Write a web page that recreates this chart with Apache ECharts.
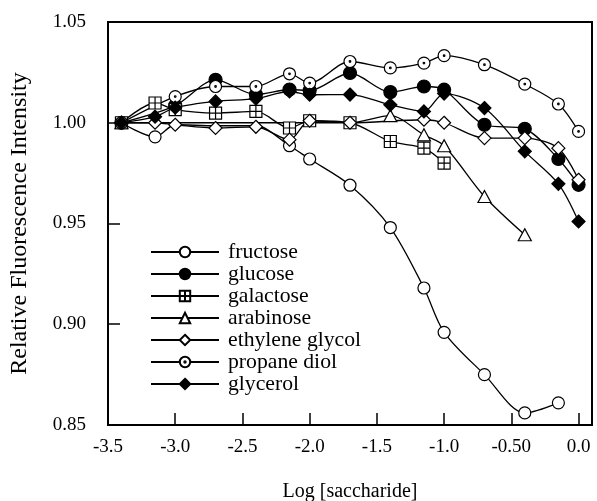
<!DOCTYPE html>
<html>
<head>
<meta charset="utf-8">
<script src="https://cdn.jsdelivr.net/npm/echarts@6/dist/echarts.min.js"></script>
<style>
html,body{margin:0;padding:0;background:#fff;}
#chart{width:597px;height:501px;}
</style>
</head>
<body>
<div id="chart"></div>
<script>
// ---- data (x = log[saccharide], y = relative fluorescence intensity) ----
const seriesNames = ['fructose','glucose','galactose','arabinose','ethylene glycol','propane diol','glycerol'];
const xTickValues = [-3.5,-3.0,-2.5,-2.0,-1.5,-1.0,-0.5,0.0];
const xTickLabels = ['-3.5','-3.0','-2.5','-2.0','-1.5','-1.0','-0.50','0.0'];
const yTickLabels = ['0.85','0.90','0.95','1.00','1.05'];

const fructoseX = [-3.40,-3.15,-3.00,-2.70,-2.40,-2.15,-2.00,-1.70,-1.40,-1.15,-1.00,-0.70,-0.40,-0.15];
const fructoseY = [1.000,0.993,0.999,0.9985,0.9985,0.9886,0.982,0.969,0.948,0.918,0.896,0.875,0.856,0.861];
const fructoseUnmarked = [-3.00,-2.70,-2.40];

const glucoseX = [-3.40,-3.00,-2.70,-2.40,-2.15,-2.00,-1.70,-1.40,-1.15,-1.00,-0.70,-0.40,-0.15,0.00];
const glucoseY = [1.000,1.0085,1.0213,1.014,1.0165,1.016,1.0247,1.0152,1.018,1.0164,0.999,0.997,0.982,0.9692];

const galactoseX = [-3.40,-3.15,-3.00,-2.70,-2.40,-2.15,-2.00,-1.70,-1.40,-1.15,-1.00];
const galactoseY = [1.000,1.0098,1.0065,1.0048,1.0056,0.9974,1.001,1.000,0.9907,0.9874,0.980];

const arabinoseX = [-3.40,-1.70,-1.40,-1.15,-1.00,-0.70,-0.40];
const arabinoseY = [1.000,1.000,1.0035,0.994,0.9886,0.9634,0.9444];
const arabinoseUnmarked = [-1.70];

const ethyleneX = [-3.40,-3.15,-3.00,-2.70,-2.40,-2.15,-2.00,-1.70,-1.15,-1.00,-0.70,-0.40,-0.15,0.00];
const ethyleneY = [1.000,1.000,0.999,0.9974,0.998,0.9916,1.001,1.000,1.0015,1.000,0.9924,0.9924,0.9874,0.9717];

const propaneX = [-3.40,-3.00,-2.70,-2.40,-2.15,-2.00,-1.70,-1.40,-1.15,-1.00,-0.70,-0.40,-0.15,0.00];
const propaneY = [1.000,1.013,1.018,1.018,1.0243,1.0197,1.0304,1.0272,1.0296,1.0333,1.0288,1.0192,1.0093,0.9957];

const glycerolX = [-3.40,-3.15,-3.00,-2.70,-2.40,-2.15,-2.00,-1.70,-1.40,-1.15,-1.00,-0.70,-0.40,-0.15,0.00];
const glycerolY = [1.000,1.003,1.0075,1.0106,1.012,1.0155,1.0139,1.014,1.0089,1.0056,1.0145,1.0073,0.9858,0.9697,0.951];

// ---- build ----
const FONT = '"Liberation Serif","Times New Roman",serif';
const dotCircle = 'path://M6,0A6,6,0,1,1,6,12A6,6,0,1,1,6,0ZM6,5.2A0.8,0.8,0,1,1,6,6.8A0.8,0.8,0,1,1,6,5.2Z';
const crossSquare = 'path://M0,0H10V10H0ZM5,0V10M0,5H10';

function pts(xs, ys, unmarked) {
  return xs.map((x, i) => {
    const item = { value: [x, ys[i]] };
    if (unmarked && unmarked.indexOf(x) >= 0) { item.symbol = 'none'; }
    return item;
  });
}
const styles = [
  { symbol: 'circle', size: 12, fill: '#fff' },
  { symbol: 'circle', size: 13, fill: '#000' },
  { symbol: crossSquare, size: 12, fill: '#fff' },
  { symbol: 'triangle', size: [13, 12], fill: '#fff' },
  { symbol: 'diamond', size: 13, fill: '#fff' },
  { symbol: dotCircle, size: 12, fill: '#fff' },
  { symbol: 'diamond', size: 13, fill: '#000' }
];
const dataSets = [
  pts(fructoseX, fructoseY, fructoseUnmarked),
  pts(glucoseX, glucoseY),
  pts(galactoseX, galactoseY),
  pts(arabinoseX, arabinoseY, arabinoseUnmarked),
  pts(ethyleneX, ethyleneY),
  pts(propaneX, propaneY),
  pts(glycerolX, glycerolY)
];
const series = seriesNames.map((name, i) => ({
  name: name,
  type: 'line',
  data: dataSets[i],
  smooth: 0.3,
  symbol: styles[i].symbol,
  symbolSize: styles[i].size,
  showAllSymbol: true,
  lineStyle: { color: '#000', width: 1.3 },
  itemStyle: { color: styles[i].fill, borderColor: '#000', borderWidth: 1.2 },
  emphasis: { disabled: true },
  animation: false
}));

const chart = echarts.init(document.getElementById('chart'), null, { renderer: 'canvas' });
chart.setOption({
  backgroundColor: '#fff',
  animation: false,
  grid: { left: 108, right: 5, top: 22, bottom: 76, show: true, borderColor: '#000', borderWidth: 2, backgroundColor: 'transparent', containLabel: false, outerBoundsMode: 'none' },
  legend: {
    orient: 'vertical', left: 145, top: 236,
    itemWidth: 68, itemHeight: 13, itemGap: 0,
    data: seriesNames,
    textStyle: { fontFamily: FONT, fontSize: 21.7, color: '#000', padding: [0, 0, 0, 4] },
    inactiveColor: '#000'
  },
  xAxis: {
    type: 'value', min: -3.5, max: 0.1, interval: 0.5,
    name: 'Log [saccharide]', nameLocation: 'middle', nameGap: 57,
    nameTextStyle: { fontFamily: FONT, fontSize: 20, color: '#000' },
    axisLine: { show: true, onZero: false, lineStyle: { color: '#000', width: 2 } },
    axisTick: { show: true, inside: true, length: 12, lineStyle: { color: '#000', width: 1.5 } },
    splitLine: { show: false },
    axisLabel: {
      fontFamily: FONT, fontSize: 19, color: '#000', margin: 13,
      formatter: function (v) {
        for (let i = 0; i < xTickValues.length; i++) {
          if (Math.abs(v - xTickValues[i]) < 1e-6) return xTickLabels[i];
        }
        return '';
      }
    }
  },
  yAxis: {
    type: 'value', min: 0.85, max: 1.05, interval: 0.05,
    name: 'Relative Fluorescence Intensity', nameLocation: 'middle', nameGap: 76,
    nameTextStyle: { fontFamily: FONT, fontSize: 24, color: '#000' },
    axisLine: { show: true, onZero: false, lineStyle: { color: '#000', width: 2 } },
    axisTick: { show: true, inside: true, length: 12, lineStyle: { color: '#000', width: 1.5 } },
    splitLine: { show: false },
    axisLabel: {
      fontFamily: FONT, fontSize: 19, color: '#000', margin: 22,
      formatter: function (v) {
        const i = Math.round((v - 0.85) / 0.05);
        return (Math.abs(v - (0.85 + i * 0.05)) < 1e-6 && yTickLabels[i]) ? yTickLabels[i] : '';
      }
    }
  },
  series: series
});
</script>
</body>
</html>
